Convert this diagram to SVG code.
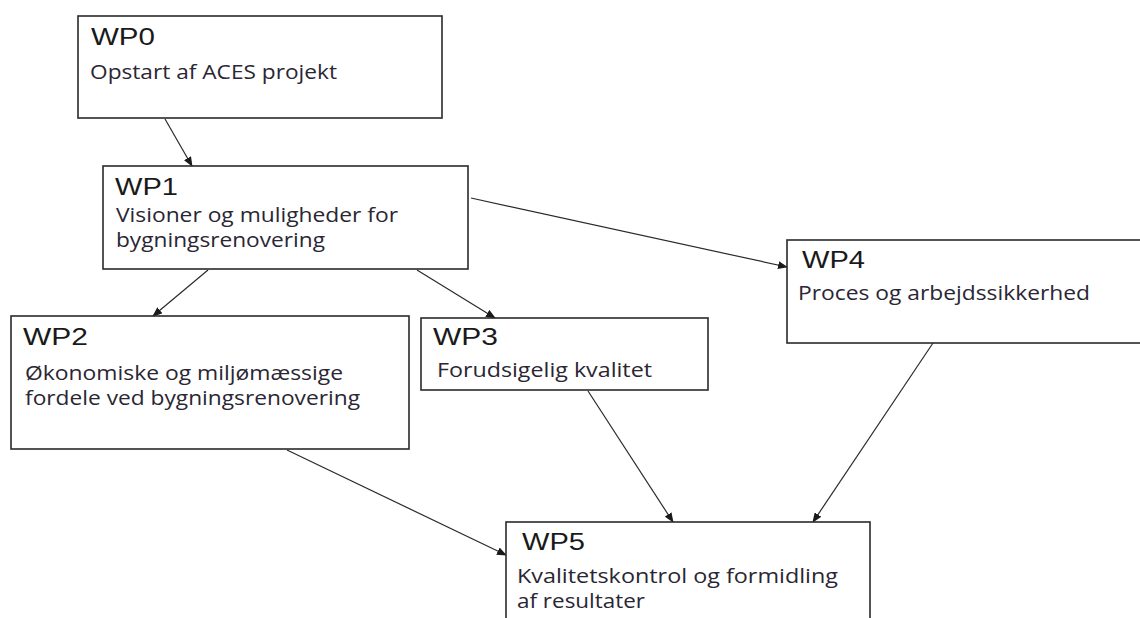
<svg xmlns="http://www.w3.org/2000/svg" width="1140" height="618" viewBox="0 0 1140 618">
<defs>
<marker id="ah" markerWidth="10" markerHeight="8" refX="9" refY="4" orient="auto" markerUnits="userSpaceOnUse">
<path d="M0,0 L10,4 L0,8 z" fill="#1a1a1a"/>
</marker>
<style>
.box{fill:#fff;stroke:#2a2a2a;stroke-width:1.6}
.t{font-family:"Liberation Sans",Arial,sans-serif;font-size:23px;fill:#1a1a1a}
.b{font-family:"Open Sans","Noto Sans",sans-serif;font-size:20px;fill:#2a2633}
.c{fill:none;stroke:#2a2a2a;stroke-width:1.2;marker-end:url(#ah)}
</style>
</defs>
<rect width="1140" height="618" fill="#fff"/>
<g id="connectors">
<line class="c" x1="165" y1="119" x2="192" y2="166"/>
<line class="c" x1="208" y1="270" x2="153" y2="316"/>
<line class="c" x1="417" y1="270" x2="495" y2="318"/>
<line class="c" x1="471" y1="198" x2="787" y2="267"/>
<line class="c" x1="287" y1="450" x2="506" y2="555"/>
<line class="c" x1="588" y1="391" x2="673" y2="522"/>
<line class="c" x1="933" y1="343" x2="813" y2="522"/>
</g>
<g id="wp0">
<rect class="box" x="78" y="16" width="364" height="102"/>
<text class="t" x="91" y="45" textLength="64" lengthAdjust="spacingAndGlyphs">WP0</text>
<text class="b" x="90" y="79" textLength="247" lengthAdjust="spacingAndGlyphs">Opstart af ACES projekt</text>
</g>
<g id="wp1">
<rect class="box" x="103" y="166" width="365" height="103"/>
<text class="t" x="115" y="195" textLength="63" lengthAdjust="spacingAndGlyphs">WP1</text>
<text class="b" x="116" y="222" textLength="282" lengthAdjust="spacingAndGlyphs">Visioner og muligheder for</text>
<text class="b" x="116" y="247" textLength="209" lengthAdjust="spacingAndGlyphs">bygningsrenovering</text>
</g>
<g id="wp2">
<rect class="box" x="11" y="316" width="398" height="133"/>
<text class="t" x="23" y="345" textLength="65" lengthAdjust="spacingAndGlyphs">WP2</text>
<text class="b" x="25" y="380" textLength="318" lengthAdjust="spacingAndGlyphs">Økonomiske og miljømæssige</text>
<text class="b" x="25" y="405" textLength="335" lengthAdjust="spacingAndGlyphs">fordele ved bygningsrenovering</text>
</g>
<g id="wp3">
<rect class="box" x="421" y="318" width="287" height="72"/>
<text class="t" x="433" y="345" textLength="65" lengthAdjust="spacingAndGlyphs">WP3</text>
<text class="b" x="437" y="377" textLength="215" lengthAdjust="spacingAndGlyphs">Forudsigelig kvalitet</text>
</g>
<g id="wp4">
<rect class="box" x="787" y="240" width="370" height="103"/>
<text class="t" x="802" y="268" textLength="63" lengthAdjust="spacingAndGlyphs">WP4</text>
<text class="b" x="798" y="300" textLength="292" lengthAdjust="spacingAndGlyphs">Proces og arbejdssikkerhed</text>
</g>
<g id="wp5">
<rect class="box" x="506" y="522" width="364" height="110"/>
<text class="t" x="522" y="550" textLength="63" lengthAdjust="spacingAndGlyphs">WP5</text>
<text class="b" x="517" y="583" textLength="321" lengthAdjust="spacingAndGlyphs">Kvalitetskontrol og formidling</text>
<text class="b" x="517" y="608" textLength="128" lengthAdjust="spacingAndGlyphs">af resultater</text>
</g>
</svg>
